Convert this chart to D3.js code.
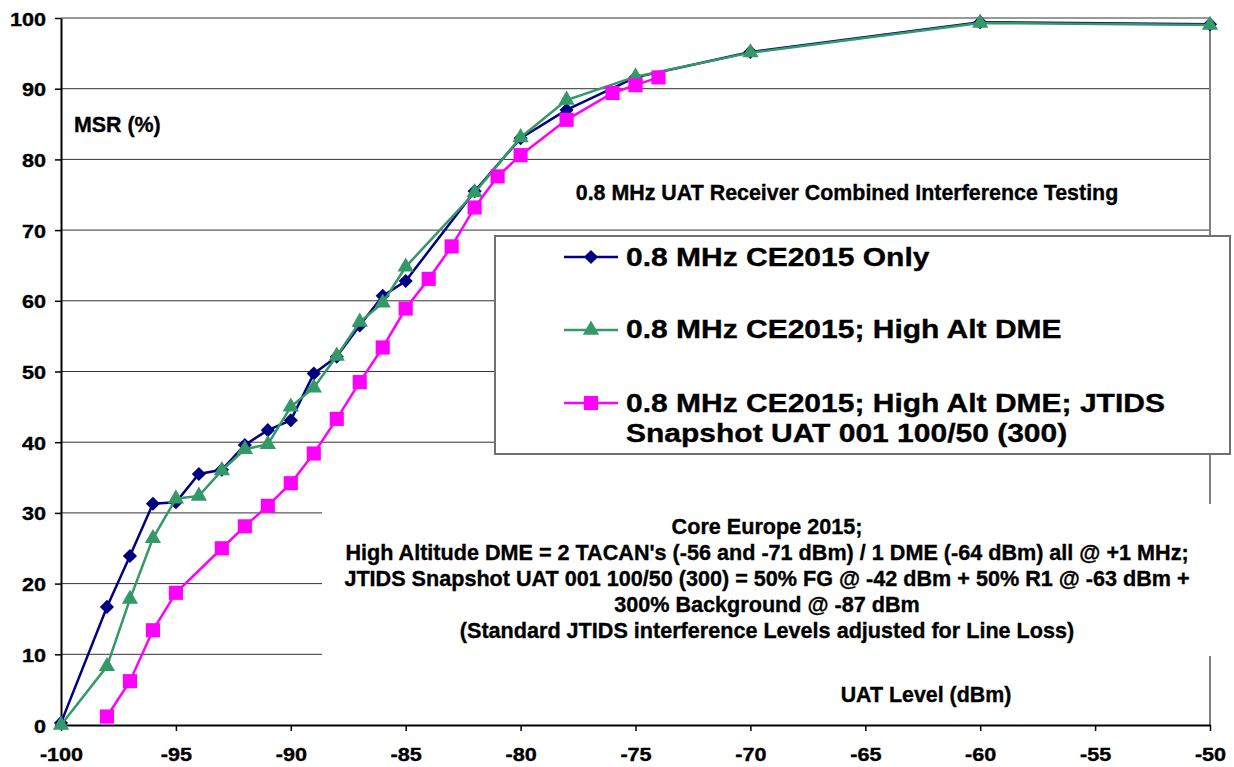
<!DOCTYPE html>
<html>
<head>
<meta charset="utf-8">
<script src="https://cdn.jsdelivr.net/npm/d3@7"></script>
<style>
  body { margin: 0; background: #fff; }
  svg text { font-family: 'Liberation Sans', Arial, sans-serif; font-weight: bold; fill: #000; stroke: #000; stroke-width: 0.35px; }
</style>
</head>
<body>
<div id="chart"></div>
<script>
// UAT level (dBm) for the two CE2015 series
const xLevels = [-100, -98, -97, -96, -95, -94, -93, -92, -91, -90, -89, -88, -87, -86, -85, -82, -80, -78, -75, -70, -60, -50]
const ceOnly = [0.3, 16.7, 23.9, 31.3, 31.5, 35.5, 36.1, 39.6, 41.7, 43.1, 49.7, 52.1, 56.5, 60.7, 62.8, 75.5, 83.0, 87.0, 91.6, 95.2, 99.4, 99.1]
const ceHighAlt = [0.0, 8.3, 17.8, 26.4, 32.0, 32.4, 36.0, 39.0, 39.7, 45.0, 47.7, 52.2, 57.0, 59.7, 64.8, 75.3, 83.1, 88.4, 91.7, 95.1, 99.3, 99.0]

// JTIDS series has its own set of levels
const xJtids = [-98, -97, -96, -95, -93, -92, -91, -90, -89, -88, -87, -86, -85, -84, -83, -82, -81, -80, -78, -76, -75, -74]
const ceJtids = [1.2, 6.2, 13.4, 18.7, 25.0, 28.1, 31.0, 34.2, 38.4, 43.3, 48.5, 53.4, 58.9, 63.1, 67.7, 73.2, 77.6, 80.6, 85.6, 89.4, 90.5, 91.6]

const seriesNames = [
  ['0.8 MHz CE2015 Only'],
  ['0.8 MHz CE2015; High Alt DME'],
  ['0.8 MHz CE2015; High Alt DME; JTIDS', 'Snapshot UAT 001 100/50 (300)'],
]
const xTicks = [-100, -95, -90, -85, -80, -75, -70, -65, -60, -55, -50]
const yTicks = [0, 10, 20, 30, 40, 50, 60, 70, 80, 90, 100]

const chartTitle = '0.8 MHz UAT Receiver Combined Interference Testing'
const noteLines = [
  'Core Europe 2015;',
  "High Altitude DME = 2 TACAN's (-56 and -71 dBm) / 1 DME (-64 dBm) all @ +1 MHz;",
  'JTIDS Snapshot UAT 001 100/50 (300) = 50% FG @ -42 dBm + 50% R1 @ -63 dBm +',
  '300% Background @ -87 dBm',
  '(Standard JTIDS interference Levels adjusted for Line Loss)',
]

const W = 1234, H = 767
const plotL = 61, plotR = 1210, plotT = 18, plotB = 725
const sx = 1.2 // tick and legend text is drawn a bit wide

const svg = d3.select('#chart').append('svg').attr('width', W).attr('height', H)

const x = d3.scaleLinear().domain([-100, -50]).range([plotL, plotR])
const y = d3.scaleLinear().domain([0, 100]).range([plotB, plotT])

// gridlines
svg.append('g')
  .selectAll('line')
  .data(yTicks.filter((d) => d > 0))
  .enter()
  .append('line')
  .attr('x1', plotL)
  .attr('x2', plotR)
  .attr('y1', (d) => y(d))
  .attr('y2', (d) => y(d))
  .attr('stroke', '#333')
  .attr('stroke-width', 1)

// right edge of plot area
svg.append('line')
  .attr('x1', plotR).attr('x2', plotR)
  .attr('y1', plotT).attr('y2', plotB)
  .attr('stroke', '#808080')
  .attr('stroke-width', 2)

// white box behind the note text (hides grid and right edge)
svg.append('rect')
  .attr('x', 322).attr('y', 504)
  .attr('width', 900).attr('height', 152)
  .attr('fill', '#fff')

// axes
const yAxis = svg.append('g')
  .attr('transform', `translate(${plotL},0)`)
  .call(d3.axisLeft(y).tickValues(yTicks).tickSize(6).tickSizeOuter(0).tickFormat((d) => String(d)))
const xAxis = svg.append('g')
  .attr('transform', `translate(0,${plotB})`)
  .call(d3.axisBottom(x).tickValues(xTicks).tickSize(6).tickSizeOuter(0).tickFormat((d) => String(d)))

;[yAxis, xAxis].forEach((a) => {
  a.attr('font-family', null).attr('font-size', null)
  a.select('.domain').attr('stroke', '#000').attr('stroke-width', 2)
  a.selectAll('.tick line').attr('stroke', '#000').attr('stroke-width', 1.5)
  a.selectAll('.tick text').attr('font-size', 18).attr('fill', '#000')
})
yAxis.selectAll('.tick text')
  .attr('x', 0).attr('dy', null).attr('y', 0)
  .attr('transform', `translate(-15,7) scale(${sx},1)`)
xAxis.selectAll('.tick text')
  .attr('dy', null).attr('y', 0)
  .attr('transform', `translate(0,36) scale(${sx},1)`)

// series
const series = [
  { xs: xLevels, ys: ceOnly, color: '#000080', marker: 'diamond' },
  { xs: xLevels, ys: ceHighAlt, color: '#339966', marker: 'triangle' },
  { xs: xJtids, ys: ceJtids, color: '#FF00FF', marker: 'square' },
]

function markerPath(kind) {
  if (kind === 'diamond') return d3.symbol(d3.symbolSquare, 100)()
  if (kind === 'triangle') return d3.symbol(d3.symbolTriangle, 115)()
  return d3.symbol(d3.symbolSquare, 200)()
}
function markerTransform(kind, px, py) {
  return kind === 'diamond' ? `translate(${px},${py}) rotate(45)` : `translate(${px},${py})`
}

const line = d3.line().x((d) => x(d[0])).y((d) => y(d[1]))

series.forEach((s) => {
  const pts = s.xs.map((v, i) => [v, s.ys[i]])
  const g = svg.append('g')
  g.append('path')
    .datum(pts)
    .attr('d', line)
    .attr('fill', 'none')
    .attr('stroke', s.color)
    .attr('stroke-width', 2.5)
  g.selectAll('.pt')
    .data(pts)
    .enter()
    .append('path')
    .attr('d', markerPath(s.marker))
    .attr('transform', (d) => markerTransform(s.marker, x(d[0]), y(d[1])))
    .attr('fill', s.color)
})

// texts in the plot
svg.append('text').attr('x', 74).attr('y', 132).attr('font-size', 21.4).text('MSR (%)')
svg.append('text').attr('x', 847).attr('y', 200).attr('font-size', 21.4)
  .attr('text-anchor', 'middle').text(chartTitle)
svg.append('text').attr('x', 926).attr('y', 702).attr('font-size', 21.4)
  .attr('text-anchor', 'middle').text('UAT Level (dBm)')

svg.append('g')
  .selectAll('text')
  .data(noteLines)
  .enter()
  .append('text')
  .attr('x', 767)
  .attr('y', (d, i) => 534 + i * 26)
  .attr('font-size', 21.6)
  .attr('text-anchor', 'middle')
  .text((d) => d)

// legend
const legend = svg.append('g')
legend.append('rect')
  .attr('x', 495).attr('y', 236)
  .attr('width', 735).attr('height', 218)
  .attr('fill', '#fff')
  .attr('stroke', '#707070')
  .attr('stroke-width', 2)

const rowY = [257, 330, 403]
const rowBase = [266, 338, 412]
series.forEach((s, i) => {
  legend.append('line')
    .attr('x1', 564).attr('x2', 618)
    .attr('y1', rowY[i]).attr('y2', rowY[i])
    .attr('stroke', s.color)
    .attr('stroke-width', 2.5)
  legend.append('path')
    .attr('d', markerPath(s.marker))
    .attr('transform', markerTransform(s.marker, 591, rowY[i]))
    .attr('fill', s.color)
  seriesNames[i].forEach((t, j) => {
    legend.append('text')
      .attr('transform', `translate(626,${rowBase[i] + j * 30}) scale(${sx},1)`)
      .attr('font-size', 25)
      .text(t)
  })
})
</script>
</body>
</html>
